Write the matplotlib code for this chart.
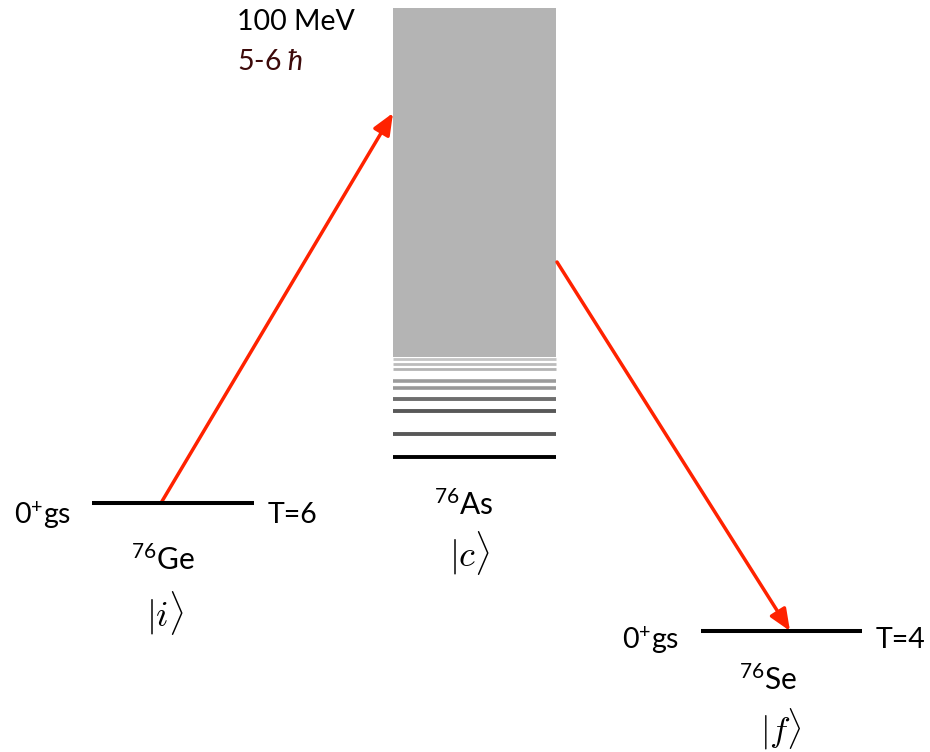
import matplotlib.pyplot as plt
from matplotlib.patches import Rectangle, FancyArrowPatch

plt.rcParams['font.family'] = ['Lato', 'DejaVu Sans']
plt.rcParams['mathtext.fontset'] = 'custom'
plt.rcParams['mathtext.rm'] = 'Lato'
plt.rcParams['mathtext.it'] = 'Lato:italic'

# level scheme (x from, x to, y) in picture units
ge_level = (92, 254, 503)
se_level = (701, 862, 631)
as_box = (393, 556, 8, 357)          # x0, x1, top, bottom of continuum
as_levels = [359, 364, 369, 381, 388, 399, 411, 434, 457]
as_grays = ['#c4c4c4', '#bcbcbc', '#b4b4b4', '#9c9c9c', '#989898',
            '#6e6e6e', '#585858', '#585858', '#000000']
as_widths = [2.0, 2.0, 2.0, 2.6, 2.6, 2.8, 2.8, 2.8, 2.8]

arrow_up = ((161, 503), (393, 113))
arrow_down = ((557, 262), (790, 631))

fig = plt.figure(figsize=(9.3, 7.52), dpi=100)
ax = fig.add_axes([0, 0, 1, 1])
ax.set_xlim(0, 930)
ax.set_ylim(752, 0)
ax.axis('off')

# continuum box
x0, x1, top, bot = as_box
ax.add_patch(Rectangle((x0, top), x1 - x0, bot - top, color='#b4b4b4', lw=0))
for y, c, w in zip(as_levels, as_grays, as_widths):
    ax.plot([x0, x1], [y, y], color=c, lw=w, solid_capstyle='butt')

# ground states
ax.plot(ge_level[:2], [ge_level[2]] * 2, color='black', lw=2.9, solid_capstyle='butt')
ax.plot(se_level[:2], [se_level[2]] * 2, color='black', lw=2.9, solid_capstyle='butt')

red = '#ff2200'
for a, b in [arrow_up, arrow_down]:
    ax.add_patch(FancyArrowPatch(a, b, arrowstyle='-|>,head_length=13,head_width=5.5',
                                 color=red, lw=2.5, mutation_scale=1,
                                 shrinkA=0, shrinkB=0))

fs = 20.5
fl = 21.5   # nucleus labels
fk = 26     # kets
ax.text(237, 22, '100 MeV', fontsize=fs, va='center', ha='left')
ax.text(237, 62, r'5-6 $\hbar$', fontsize=fs, va='center', ha='left', color='#3d0a0a')

# Ge
ax.text(14, 515, r'0$^{+}$gs', fontsize=fs, va='center', ha='left')
ax.text(268, 515, 'T=6', fontsize=fs, va='center', ha='left')
ax.text(163, 560, r'$^{76}$Ge', fontsize=fl, va='center', ha='center')
ax.text(165, 613, r'$|i\rangle$', fontsize=fk, va='center', ha='center',
        math_fontfamily='cm')

# As
ax.text(464, 505, r'$^{76}$As', fontsize=fl, va='center', ha='center')
ax.text(470, 553, r'$|c\rangle$', fontsize=fk, va='center', ha='center',
        math_fontfamily='cm')

# Se
ax.text(622, 640, r'0$^{+}$gs', fontsize=fs, va='center', ha='left')
ax.text(876, 640, 'T=4', fontsize=fs, va='center', ha='left')
ax.text(768, 680, r'$^{76}$Se', fontsize=fl, va='center', ha='center')
ax.text(781, 729, r'$|f\rangle$', fontsize=fk - 1, va='center', ha='center',
        math_fontfamily='cm')

fig.savefig('out.png', dpi=100)
